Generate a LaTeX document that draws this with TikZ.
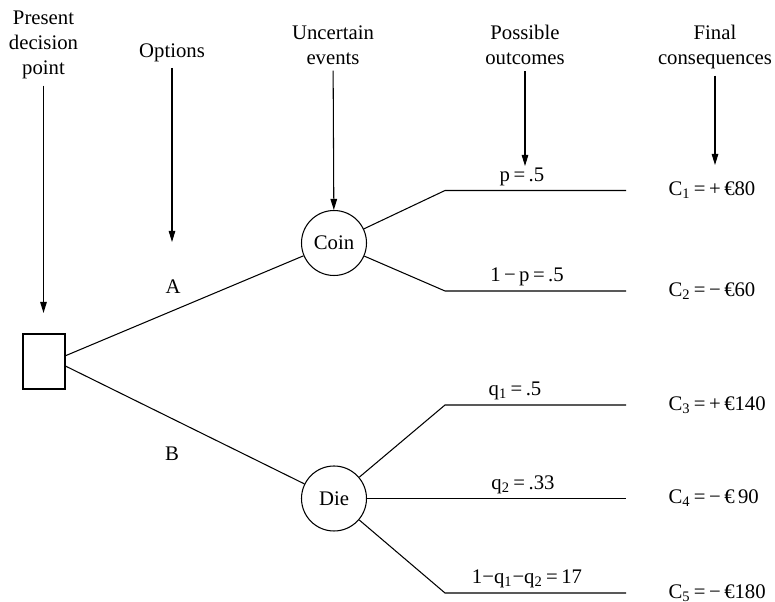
\documentclass[tikz,border=0pt]{standalone}
\usepackage{fontspec}
\setmainfont{Liberation Serif}
\usetikzlibrary{arrows.meta}

\begin{document}
\begin{tikzpicture}[x=1cm,y=1cm,
  font=\fontsize{11.8}{14.2}\selectfont,
  line width=0.6pt,
  hdr/.style={align=center,anchor=north},
  chance/.style={draw,circle,minimum size=1.3cm,inner sep=0pt},
  prob/.style={above,inner sep=2.5pt},
  cons/.style={anchor=west,inner sep=0pt},
  pointer/.style={-{Triangle[length=2.2mm,width=1.3mm]}}]
  \useasboundingbox (0,0) rectangle (15.5,12.04);
  % headings
  \node[hdr] (hdec) at (0.87,11.94) {Present\\decision\\point};
  \node[hdr] (hopt) at (3.44,11.3) {Options};
  \node[hdr] (hunc) at (6.66,11.66) {Uncertain\\events};
  \node[hdr] (hout) at (10.5,11.66) {Possible\\outcomes};
  \node[hdr] (hcon) at (14.3,11.66) {Final\\consequences};
  % tree
  \node[draw,minimum width=0.84cm,minimum height=1.1cm,inner sep=0pt] (dec) at (0.88,4.81) {};
  \node[chance] (coin) at (6.68,7.18) {Coin};
  \node[chance] (die) at (6.68,2.07) {Die};
  \coordinate (k1) at (8.9,8.23);
  \coordinate (k2) at (8.9,6.22);
  \coordinate (k3) at (8.9,3.94);
  \coordinate (k5) at (8.9,0.18);
  \coordinate (e1) at (12.52,8.23);
  \coordinate (e2) at (12.52,6.22);
  \coordinate (e3) at (12.52,3.94);
  \coordinate (e4) at (12.52,2.07);
  \coordinate (e5) at (12.52,0.18);
  \draw (dec.15) -- (coin);
  \draw (dec.-12) -- (die);
  \draw (coin) -- (k1) -- (e1);
  \draw (coin) -- (k2) -- (e2);
  \draw (die) -- (k3) -- (e3);
  \draw (die) -- (e4);
  \draw (die) -- (k5) -- (e5);
  % labels
  \node (optA) at (3.46,6.3) {A};
  \node (optB) at (3.44,2.96) {B};
  \node[prob] (p1) at (10.44,8.23) {p\,=\,.5};
  \node[prob] (p2) at (10.54,6.22) {1\,−\,p\,=\,.5};
  \node[prob] (p3) at (10.3,3.94) {q\textsubscript{1}\,=\,.5};
  \node[prob] (p4) at (10.46,2.07) {q\textsubscript{2}\,=\,.33};
  \node[prob] (p5) at (10.54,0.18) {1−q\textsubscript{1}−q\textsubscript{2}\,=\,17};
  \node[cons] (c1) at (13.36,8.23) {C\textsubscript{1}\,=\,+\,€80};
  \node[cons] (c2) at (13.36,6.22) {C\textsubscript{2}\,=\,−\,€60};
  \node[cons] (c3) at (13.36,3.94) {C\textsubscript{3}\,=\,+\,€140};
  \node[cons] (c4) at (13.36,2.07) {C\textsubscript{4}\,=\,−\,€\,90};
  \node[cons] (c5) at (13.36,0.18) {C\textsubscript{5}\,=\,−\,€180};
  % pointers
  \coordinate (t1) at (0.87,5.78);
  \coordinate (t2) at (3.44,7.2);
  \coordinate (t4) at (10.5,8.72);
  \coordinate (t5) at (14.3,8.74);
  \draw[pointer] (hdec) -- (t1);
  \draw[pointer] (hopt) -- (t2);
  \draw[pointer] (hunc) -- (coin);
  \draw[pointer] (hout) -- (t4);
  \draw[pointer] (hcon) -- (t5);
\end{tikzpicture}
\end{document}
